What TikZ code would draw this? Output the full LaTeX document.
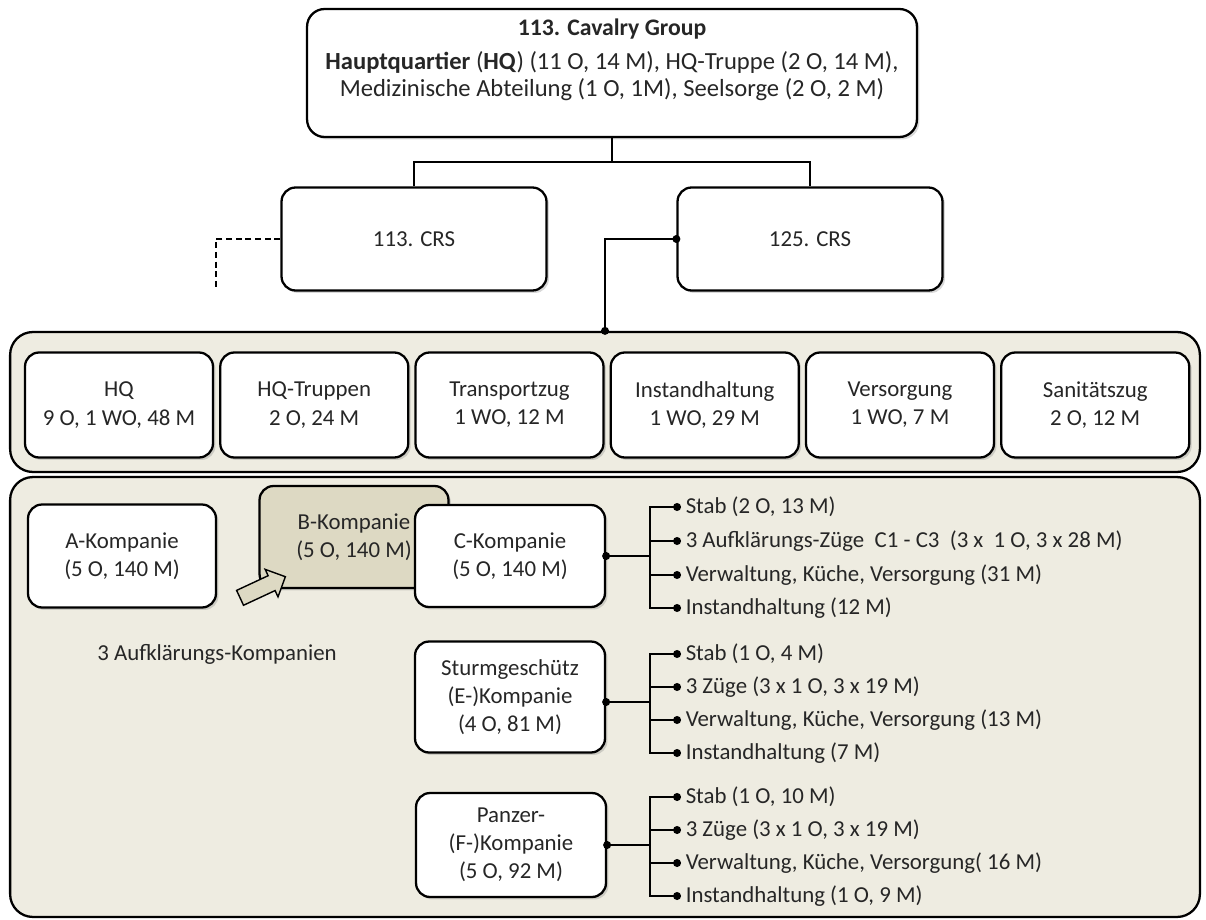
\documentclass[tikz,border=0pt]{standalone}
\usepackage{fontspec}
\setmainfont{Carlito}
\usepackage{xcolor}
\usetikzlibrary{arrows.meta,shapes.arrows,positioning,shadows}
\definecolor{CavTan}{RGB}{238,236,225}
\definecolor{CavTanDark}{RGB}{221,217,195}
\definecolor{CavText}{RGB}{38,38,38}
\tikzset{
  ubox/.style={draw=black,fill=white,line width=1.3pt,rounded corners=8pt,align=center,text=CavText,font=\fontsize{13}{16}\selectfont,inner sep=2pt,drop shadow={opacity=0.3,shadow xshift=1.4pt,shadow yshift=-1.4pt}},
  tbox/.style={ubox,fill=CavTanDark},
  panel/.style={draw=black,fill=CavTan,line width=1.3pt,rounded corners=13pt,inner sep=0pt},
  link/.style={draw=black,line width=1pt},
  dlink/.style={link,-{Circle[length=4.5pt]}},
  item/.style={anchor=west,text=CavText,font=\fontsize{13}{15}\selectfont,inner sep=2.5pt},
}
\begin{document}
\begin{tikzpicture}[x=0.02cm,y=-0.02cm]
    \useasboundingbox (0,0) rectangle (1206,919);
    %% Group headquarters
    \node[ubox,minimum width=12.2cm,minimum height=2.56cm,rounded corners=10pt] (grp) at (612,73) {};
    \node[text=CavText,font=\bfseries\fontsize{13.5}{15}\selectfont] (grptitle) at (612,29) {113. Cavalry Group};
    \node[text=CavText,align=center,font=\fontsize{14}{15}\selectfont] (grpbody) at (612,76)
      {\textbf{Hauptquartier} (\textbf{HQ}) (11 O, 14 M), HQ-Truppe (2 O, 14 M),\\Medizinische Abteilung (1 O, 1M), Seelsorge (2 O, 2 M)};
    %% Squadrons
    \node[ubox,minimum width=5.3cm,minimum height=2.06cm] (crsA) at (414,239) {113. CRS};
    \node[ubox,minimum width=5.3cm,minimum height=2.06cm] (crsB) at (810,239) {125. CRS};
    \coordinate (split) at (612,162);
    \coordinate (crsAend) at (216,288);
    \draw[link] (grp.south) -- (split);
    \draw[link] (crsA.north) |- (split) -| (crsB.north);
    \draw[link,dash pattern=on 3.5pt off 2pt] (crsA.west) -| (crsAend);
    %% Squadron staff
    \node[panel,minimum width=23.8cm,minimum height=2.8cm] (staff) at (605,402) {};
    \node[ubox,minimum width=3.76cm,minimum height=2.1cm] (hq) at (119,405) {HQ\\9 O, 1 WO, 48 M};
    \node[ubox,minimum width=3.76cm,minimum height=2.1cm,right=0.1cm of hq] (hqtr) {HQ-Truppen\\2 O, 24 M};
    \node[ubox,minimum width=3.76cm,minimum height=2.1cm,right=0.1cm of hqtr] (trans) {Transportzug\\1 WO, 12 M};
    \node[ubox,minimum width=3.76cm,minimum height=2.1cm,right=0.1cm of trans] (inst) {Instandhaltung\\1 WO, 29 M};
    \node[ubox,minimum width=3.76cm,minimum height=2.1cm,right=0.1cm of inst] (vers) {Versorgung\\1 WO, 7 M};
    \node[ubox,minimum width=3.76cm,minimum height=2.1cm,right=0.1cm of vers] (san) {Sanitätszug\\2 O, 12 M};
    \draw[link,{Circle[length=4.5pt]}-{Circle[length=4.5pt]},shorten <=-2.25pt,shorten >=-2.25pt] (crsB.west) -| (staff.north);
    %% Companies
    \node[panel,minimum width=23.8cm,minimum height=8.8cm] (cos) at (605,697) {};
    \node[ubox,minimum width=3.76cm,minimum height=2.06cm] (akp) at (122,556) {A-Kompanie\\(5 O, 140 M)};
    \node[tbox,minimum width=3.78cm,minimum height=2.04cm] (bkp) at (354,537) {B-Kompanie\\(5 O, 140 M)};
    \node[single arrow,draw=black,fill=CavTanDark,line width=0.8pt,inner xsep=0pt,inner ysep=0.15cm,minimum height=1cm,single arrow head extend=0.14cm,rotate=25] (bmark) at (259,589) {};
    \node[ubox,minimum width=3.8cm,minimum height=2.04cm] (ckp) at (510,556) {C-Kompanie\\(5 O, 140 M)};
    \node[text=CavText,font=\fontsize{13}{15}\selectfont] (kplabel) at (217,654) {3 Aufklärungs-Kompanien};
    \node[ubox,minimum width=3.8cm,minimum height=2.22cm] (ekp) at (510,697) {Sturmgeschütz\\(E-)Kompanie\\(4 O, 81 M)};
    \node[ubox,minimum width=3.8cm,minimum height=2.08cm] (fkp) at (511,845) {Panzer-\\(F-)Kompanie\\(5 O, 92 M)};
    %% C-Kompanie
    \coordinate (cfork) at (650,556);
    \node[item] (cstab) at (681,507) {Stab (2 O, 13 M)};
    \node[item] (czug)  at (681,541) {3 Aufklärungs-Züge~ C1 - C3~ (3 x~ 1 O, 3 x 28 M)};
    \node[item] (cverw) at (681,575) {Verwaltung, Küche, Versorgung (31 M)};
    \node[item] (cinst) at (681,608) {Instandhaltung (12 M)};
    \draw[link,{Circle[length=4.5pt]}-,shorten <=-2.25pt] (ckp.east) -- (cfork);
    \draw[dlink] (cfork) |- (cstab.west);
    \draw[dlink] (cfork) |- (czug.west);
    \draw[dlink] (cfork) |- (cverw.west);
    \draw[dlink] (cfork) |- (cinst.west);
    %% E-Kompanie
    \coordinate (efork) at (650,702);
    \node[item] (estab) at (681,654) {Stab (1 O, 4 M)};
    \node[item] (ezug)  at (681,687) {3 Züge (3 x 1 O, 3 x 19 M)};
    \node[item] (everw) at (681,720) {Verwaltung, Küche, Versorgung (13 M)};
    \node[item] (einst) at (681,753) {Instandhaltung (7 M)};
    \draw[link,{Circle[length=4.5pt]}-,shorten <=-2.25pt] (ekp.east |- efork) -- (efork);
    \draw[dlink] (efork) |- (estab.west);
    \draw[dlink] (efork) |- (ezug.west);
    \draw[dlink] (efork) |- (everw.west);
    \draw[dlink] (efork) |- (einst.west);
    %% F-Kompanie
    \coordinate (ffork) at (650,845);
    \node[item] (fstab) at (681,797) {Stab (1 O, 10 M)};
    \node[item] (fzug)  at (681,830) {3 Züge (3 x 1 O, 3 x 19 M)};
    \node[item] (fverw) at (681,863) {Verwaltung, Küche, Versorgung( 16 M)};
    \node[item] (finst) at (681,896) {Instandhaltung (1 O, 9 M)};
    \draw[link,{Circle[length=4.5pt]}-,shorten <=-2.25pt] (fkp.east) -- (ffork);
    \draw[dlink] (ffork) |- (fstab.west);
    \draw[dlink] (ffork) |- (fzug.west);
    \draw[dlink] (ffork) |- (fverw.west);
    \draw[dlink] (ffork) |- (finst.west);
  \end{tikzpicture}
\end{document}
